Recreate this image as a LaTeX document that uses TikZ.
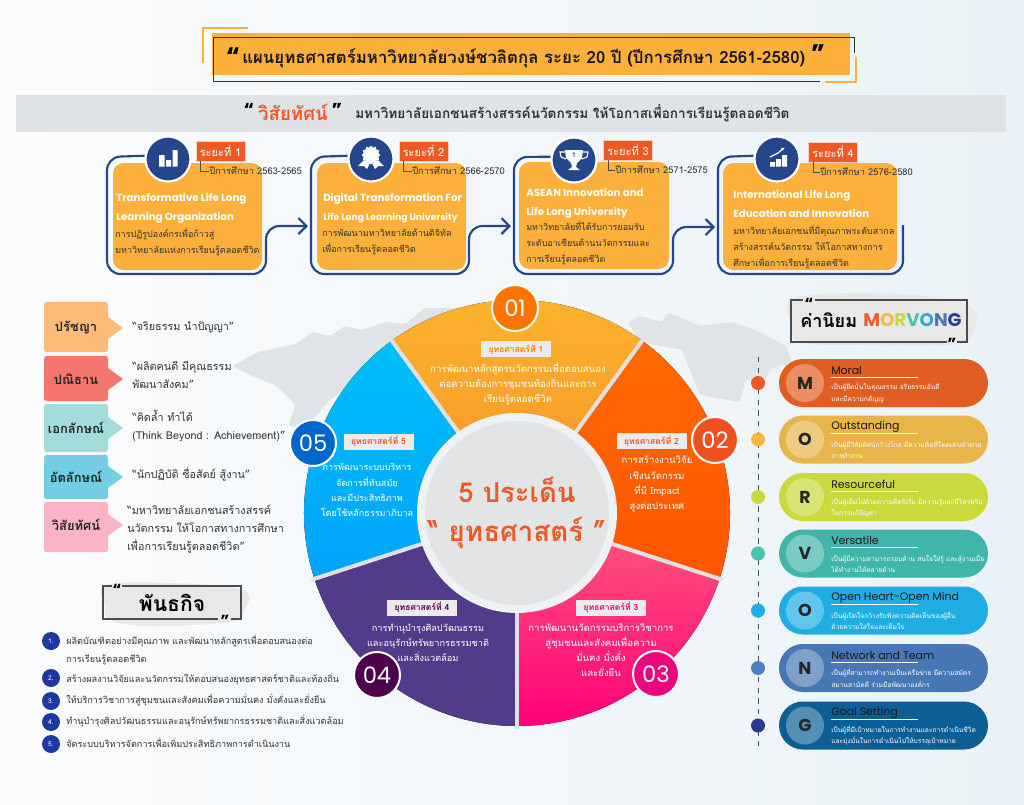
\documentclass[tikz,border=0pt]{standalone}
\usepackage{fontspec}
\setmainfont[Script=Thai]{Loma}
\newfontfamily\latinfont{Poppins}
\usetikzlibrary{arrows.meta,shapes.geometric}
\pgfdeclarelayer{under}
\pgfsetlayers{under,main}
\def\px{0.75pt}
\definecolor{inkdark}{HTML}{333333}
\definecolor{cardorange}{HTML}{FDB03B}
\definecolor{navyblue}{HTML}{25468A}
\definecolor{redtag}{HTML}{EE5A26}
\definecolor{bandgrey}{HTML}{DFE3E6}
\definecolor{mapgrey}{HTML}{E0E4E7}
\definecolor{ringgrey}{HTML}{EEF2F4}
\definecolor{discgrey}{HTML}{E3E4E5}
\definecolor{pagelight}{HTML}{FBFCFD}
\definecolor{pagedark}{HTML}{EAF2F7}
\tikzset{
  flowline/.style={draw=navyblue,line width=1.6pt,rounded corners=10pt},
  flowtip/.style={-{Straight Barb[length=6pt,width=12pt]}},
  cardbody/.style={fill=cardorange,rounded corners=8pt,inner sep=0,outer sep=0},
  iconball/.style={circle,fill=navyblue,draw=white,line width=1.6pt,minimum size=45*\px,inner sep=0},
  phasetag/.style={fill=redtag,draw=white!70!redtag,line width=.4pt,text=white,inner sep=0,minimum width=49*\px,minimum height=20*\px,font=\fontsize{8.3}{10}\selectfont},
  yeartext/.style={anchor=west,inner sep=0,text=inkdark,font=\fontsize{7}{8}\selectfont},
  cardtitle/.style={anchor=west,inner sep=0,align=left,text=white,font=\latinfont\bfseries\fontsize{7.7}{14}\selectfont},
  cardtext/.style={anchor=west,inner sep=0,align=left,text=inkdark,font=\fontsize{6.75}{12}\selectfont},
  quotetext/.style={anchor=west,inner sep=0,align=left,text=inkdark,font=\fontsize{8.1}{13.5}\selectfont},
  quotemark/.style={inner sep=0,text=black,font=\latinfont\bfseries\fontsize{19}{19}\selectfont},
  smallmark/.style={inner sep=0,text=black,font=\latinfont\bfseries\fontsize{12}{12}\selectfont},
  calloutlabel/.style={inner sep=0,text=black!85,font=\bfseries\fontsize{9.7}{11}\selectfont},
  sectorchip/.style={fill=white!92!black,inner sep=0,minimum width=70*\px,minimum height=16*\px,font=\bfseries\fontsize{6.4}{8}\selectfont},
  sectortext/.style={inner sep=0,align=center,text=white,font=\fontsize{7.2}{11.4}\selectfont},
  numball/.style={circle,draw=white,line width=1.5pt,minimum size=46*\px,inner sep=0,text=white,font=\latinfont\fontsize{17}{20}\selectfont},
  missionball/.style={circle,fill=navyblue!80!blue,minimum size=18*\px,inner sep=0,text=white,font=\fontsize{5}{6}\selectfont},
  missiontext/.style={anchor=west,inner sep=0,align=left,text=inkdark,font=\fontsize{6.85}{13.5}\selectfont},
  pillbody/.style={rounded corners=18pt,inner sep=0,outer sep=0,minimum width=209*\px,minimum height=48*\px},
  pillletter/.style={circle,fill=white,fill opacity=.3,text opacity=1,minimum size=38*\px,inner sep=0,text=black!85,font=\latinfont\bfseries\fontsize{13}{15}\selectfont},
  pilltitle/.style={anchor=west,inner sep=0,text=black!90,font=\latinfont\fontsize{8.2}{9}\selectfont},
  pilltext/.style={anchor=west,inner sep=0,align=left,text=white,font=\fontsize{5}{8.4}\selectfont},
  bracketline/.style={draw=black!70,line width=.9pt},
}
\begin{document}
\begin{tikzpicture}[x=0.75pt,y=-0.75pt]
\useasboundingbox (0,0) rectangle (1024,804);
\begin{pgfonlayer}{under}
\fill[left color=pagelight,right color=pagedark] (0,0) rectangle (1024,804);
\fill[mapgrey,rounded corners=2pt] (232,366) -- (258,352) -- (296,344) -- (312,332) -- (330,336) -- (345,326) -- (362,330) -- (385,322) -- (405,324) -- (425,308) -- (470,308) -- (452,330) -- (425,345) -- (395,350) -- (360,378) -- (330,400) -- (305,428) -- (288,425) -- (296,405) -- (275,385) -- (250,375) -- cycle;
\fill[mapgrey,rounded corners=2pt] (628,322) -- (640,316) -- (662,322) -- (668,312) -- (700,326) -- (732,322) -- (760,332) -- (786,346) -- (792,362) -- (772,368) -- (764,382) -- (745,380) -- (740,402) -- (700,395) -- (682,350) -- (640,342) -- cycle;
\end{pgfonlayer}

\fill[cardorange] (212,33) rectangle (850,75);
\draw[black!80,line width=.7pt] (820,81) -- (213,81) -- (213,37) -- (854,37) -- (854,53);
\draw[cardorange,line width=1.7pt] (203,63) -- (203,28) -- (248,28);
\draw[cardorange,line width=1.7pt] (856,57) -- (856,82) -- (825,82);
\node[quotemark] (planquote) at (233,57) {“};
\node[anchor=west,inner sep=0,text=black!90] (plantitle) at (242,58) {\bfseries\fontsize{12.6}{14}\selectfont แผนยุทธศาสตร์มหาวิทยาลัยวงษ์ชวลิตกุล ระยะ 20 ปี  (ปีการศึกษา 2561-2580)};
\node[quotemark] (planquoteend) at (818,54) {”};

\fill[bandgrey] (16,95) rectangle (1006,132);
\node[quotemark,font=\latinfont\bfseries\fontsize{14}{14}\selectfont] (visionopen) at (249,110) {“};
\node[inner sep=0,text=redtag] (visionword) at (293,112) {\bfseries\fontsize{14}{16}\selectfont วิสัยทัศน์};
\node[quotemark,font=\latinfont\bfseries\fontsize{14}{14}\selectfont] (visionclose) at (337,110) {”};
\node[anchor=west,inner sep=0,text=inkdark] (visiontext) at (355,113) {\bfseries\fontsize{10.2}{12}\selectfont มหาวิทยาลัยเอกชนสร้างสรรค์นวัตกรรม ให้โอกาสเพื่อการเรียนรู้ตลอดชีวิต};

\node[cardbody,minimum width=149*\px,minimum height=107*\px] (card1) at (187.5,216.5) {};
\node[cardbody,minimum width=149*\px,minimum height=107*\px] (card2) at (391.5,216.5) {};
\node[cardbody,minimum width=150*\px,minimum height=107*\px] (card3) at (594,215.5) {};
\node[cardbody,minimum width=174*\px,minimum height=107*\px] (card4) at (810,216.5) {};
\node[iconball] (icon1) at (168,159) {};
\node[iconball] (icon2) at (371,159) {};
\node[iconball] (icon3) at (574,160) {};
\node[iconball] (icon4) at (777,159) {};
\coordinate (turn1a) at (107,157);
\coordinate (turn1b) at (107,274);
\coordinate (turn1c) at (266,274);
\coordinate (turn1d) at (266,226);
\coordinate (turn2a) at (311,157);
\coordinate (turn2b) at (311,274);
\coordinate (turn2c) at (469,274);
\coordinate (turn2d) at (469,226);
\coordinate (turn3a) at (514,157);
\coordinate (turn3b) at (514,274);
\coordinate (turn3c) at (673,274);
\coordinate (turn3d) at (673,227);
\coordinate (turn4a) at (718,157);
\coordinate (turn4b) at (718,274);
\coordinate (turn4c) at (903,274);
\coordinate (turn4d) at (903,225);
\coordinate (tip2) at (308,226);
\coordinate (tip3) at (511,226);
\coordinate (tip4) at (715,227);
\begin{pgfonlayer}{under}
\draw[flowline,flowtip] (icon1.172) -- (turn1a) -- (turn1b) -- (turn1c) -- (turn1d) [rounded corners=2pt] -- (tip2);
\draw[flowline,flowtip] (icon2.172) -- (turn2a) -- (turn2b) -- (turn2c) -- (turn2d) [rounded corners=2pt] -- (tip3);
\draw[flowline,flowtip] (icon3.172) -- (turn3a) -- (turn3b) -- (turn3c) -- (turn3d) [rounded corners=2pt] -- (tip4);
\draw[flowline] (icon4.172) -- (turn4a) -- (turn4b) -- (turn4c) -- (turn4d);
\end{pgfonlayer}

\fill[white] (159,155) rectangle (164.5,166.5) (166,160) rectangle (171,166.5) (172.5,150) rectangle (177.5,166.5);
\node[star,star points=12,star point ratio=1.25,fill=white,minimum size=19*\px,inner sep=0] (rosette) at (371,155) {};
\fill[white] (364,160) -- (358,166) -- (364,166) -- (367,169) -- (370,163) -- cycle (378,160) -- (384,166) -- (378,166) -- (375,169) -- (372,163) -- cycle;
\fill[white] (565,150) -- (583,150) -- (582,158) -- (577,163) -- (576,167) -- (580,170) -- (568,170) -- (572,167) -- (571,163) -- (566,158) -- cycle;
\draw[white,line width=.8pt] (565,152) -- (560,152) -- (561,157) -- (566,159) (583,152) -- (588,152) -- (587,157) -- (582,159);
\node[inner sep=0,text=navyblue] (cupone) at (574,155) {\fontsize{5}{6}\selectfont\bfseries 1};
\fill[white] (770,162) rectangle (775,166.5) (776,159) rectangle (781,166.5) (782,155) rectangle (787,166.5);
\draw[white,line width=.9pt,-{Latex[length=3pt]}] (770,157) -- (778,153) -- (785,147);

\node[phasetag] (tag1) at (220.5,151) {ระยะที่ 1};
\node[phasetag] (tag2) at (423.5,151) {ระยะที่ 2};
\node[phasetag] (tag3) at (628,150) {ระยะที่ 3};
\node[phasetag] (tag4) at (833,152) {ระยะที่ 4};
\node[yeartext] (year1) at (209,171) {ปีการศึกษา 2563-2565};
\node[yeartext] (year2) at (412,171) {ปีการศึกษา 2566-2570};
\node[yeartext] (year3) at (615,170) {ปีการศึกษา 2571-2575};
\node[yeartext] (year4) at (820,172) {ปีการศึกษา 2576-2580};
\draw[black!70,line width=.4pt] (tag1.south west)++(5,0) |- (year1.west);
\draw[black!70,line width=.4pt] (tag2.south west)++(5,0) |- (year2.west);
\draw[black!70,line width=.4pt] (tag3.south west)++(5,0) |- (year3.west);
\draw[black!70,line width=.4pt] (tag4.south west)++(5,0) |- (year4.west);

\node[cardtitle] (head1) at (116,208) {Transformative Life Long\\Learning Organization};
\node[cardtext] (body1) at (115,242) {การปฏิรูปองค์กรเพื่อก้าวสู่\\มหาวิทยาลัยแห่งการเรียนรู้ตลอดชีวิต};
\node[cardtitle] (head2) at (323,208) {Digital Transformation For\\{\fontsize{6.9}{14}\selectfont Life Long Learning University}};
\node[cardtext] (body2) at (322,242) {การพัฒนามหาวิทยาลัยด้านดิจิทัล\\เพื่อการเรียนรู้ตลอดชีวิต};
\node[cardtitle] (head3) at (526,203) {ASEAN Innovation and\\Life Long University};
\node[cardtext] (body3) at (526,243) {มหาวิทยาลัยที่ได้รับการยอมรับ\\ระดับอาเซียนด้านนวัตกรรมและ\\การเรียนรู้ตลอดชีวิต};
\node[cardtitle] (head4) at (733,204) {International Life Long\\Education and Innovation};
\node[cardtext] (body4) at (733,247) {มหาวิทยาลัยเอกชนที่มีคุณภาพระดับสากล\\สร้างสรรค์นวัตกรรม ให้โอกาสทางการ\\ศึกษาเพื่อการเรียนรู้ตลอดชีวิต};

\foreach \n/\ya/\yb/\ym/\col/\lab in {1/302/352/328/FDBC7A/ปรัชญา,2/356/401/379/F4766C/ปณิธาน,3/404/452/428/A4DCDC/เอกลักษณ์,4/455/499/477/73CDE3/อัตลักษณ์,5/502/552/525/FBB4C6/วิสัยทัศน์}{
  \definecolor{tagfill}{HTML}{\col}
  \fill[tagfill] (108,\ya) -- (47,\ya) .. controls (45,\ya) and (44,\ya+1) .. (44,\ya+3) -- (44,\yb-3) .. controls (44,\yb-1) and (45,\yb) .. (47,\yb) -- (105,\yb) .. controls (107,\yb) and (108,\yb-1) .. (108,\yb-3) -- (108,\ym+11) -- (123,\ym) -- (108,\ym-11) -- (108,\ya+3) .. controls (108,\ya+1) and (107,\ya) .. (105,\ya) -- (60,\ya);
  \node[calloutlabel] (tag-\n) at (76,\ym) {\lab};
}
\node[quotetext] (quote1) at (132,327) {“จริยธรรม นำปัญญา”};
\node[quotetext] (quote2) at (132,375) {“ผลิตคนดี มีคุณธรรม\\พัฒนาสังคม”};
\node[quotetext] (quote3) at (132,426) {“คิดล้ำ ทำได้\\(Think Beyond : Achievement)”};
\node[quotetext] (quote4) at (132,474) {“นักปฏิบัติ ซื่อสัตย์ สู้งาน”};
\node[quotetext] (quote5) at (127,529) {“มหาวิทยาลัยเอกชนสร้างสรรค์\\นวัตกรรม ให้โอกาสทางการศึกษา\\เพื่อการเรียนรู้ตลอดชีวิต”};

\fill[black!9] plot[smooth cycle,tension=.6] coordinates {(106,585) (170,583) (243,590) (244,612) (230,622) (150,626) (110,620) (105,605)};
\draw[bracketline] (112,586) -- (103,586) -- (103,619) -- (218,619);
\draw[bracketline] (122,586) -- (241,586) -- (241,619) -- (231,619);
\node[smallmark] (missionopen) at (117,590) {“};
\node[smallmark] (missionclose) at (225,621) {”};
\node[inner sep=0,text=black] (missionhead) at (172,603) {\bfseries\fontsize{15.8}{18}\selectfont พันธกิจ};
\node[missionball] (dot1) at (51,641) {1.};
\node[missionball] (dot2) at (51,678) {2.};
\node[missionball] (dot3) at (51,701) {3.};
\node[missionball] (dot4) at (51,722) {4.};
\node[missionball] (dot5) at (51,744) {5.};
\node[missiontext] (line1) at (66,650) {ผลิตบัณฑิตอย่างมีคุณภาพ และพัฒนาหลักสูตรเพื่อตอบสนองต่อ\\การเรียนรู้ตลอดชีวิต};
\node[missiontext] (line2) at (66,679) {สร้างผลงานวิจัยและนวัตกรรมให้ตอบสนองยุทธศาสตร์ชาติและท้องถิ่น};
\node[missiontext] (line3) at (66,700) {ให้บริการวิชาการสู่ชุมชนและสังคมเพื่อความมั่นคง มั่งคั่งและยั่งยืน};
\node[missiontext] (line4) at (66,721) {ทำนุบำรุงศิลปวัฒนธรรมและอนุรักษ์ทรัพยากรธรรมชาติและสิ่งแวดล้อม};
\node[missiontext] (line5) at (66,743) {จัดระบบบริหารจัดการเพื่อเพิ่มประสิทธิภาพการดำเนินงาน};

\begin{scope}[shift={(517,513)},x=0.75pt,y=0.75pt]
\foreach \a/\b/\topc/\botc in {54/126/FDB52D/F7932B,-18/54/FF6A00/FF5500,-90/-18/FF5C7C/FF0078,198/270/513B8A/513B8A,126/198/00BEF8/00A4FB}{
  \definecolor{secTop}{HTML}{\topc}
  \definecolor{secBot}{HTML}{\botc}
  \fill[top color=secTop,bottom color=secBot] (0,0) -- (\a:213) arc[start angle=\a,end angle=\b,radius=213] -- cycle;
}
\foreach \a in {54,126,198,270,-18}{
  \draw[white!88!black,line width=3pt] (0,0) -- (\a:216);
}
\fill[ringgrey] (0,0) circle (100);
\fill[discgrey] (0,0) circle (92);
\end{scope}

\node[inner sep=0,text=redtag] (centerhead) at (517,490) {\bfseries\fontsize{20.6}{24}\selectfont 5 ประเด็น};
\node[inner sep=0,text=redtag] (centersub) at (517,533) {\bfseries\fontsize{20.8}{24}\selectfont “ ยุทธศาสตร์ ”};

\node[sectorchip,text=orange] (chip1) at (516,349) {ยุทธศาสตร์ที่ 1};
\node[sectortext] (text1) at (518,384) {การพัฒนาหลักสูตรนวัตกรรมเพื่อตอบสนอง\\ต่อความต้องการชุมชนท้องถิ่นและการ\\เรียนรู้ตลอดชีวิต};
\node[sectorchip,text=redtag] (chip2) at (651.5,441) {ยุทธศาสตร์ที่ 2};
\node[sectortext] (text2) at (657,484) {การสร้างงานวิจัย\\เชิงนวัตกรรม\\ที่มี Impact\\สูงต่อประเทศ};
\node[sectorchip,text=magenta!80!red] (chip3) at (611,607.5) {ยุทธศาสตร์ที่ 3};
\node[sectortext] (text3) at (601,650) {การพัฒนานวัตกรรมบริการวิชาการ\\สู่ชุมชนและสังคมเพื่อความ\\มั่นคง มั่งคั่ง\\และยั่งยืน};
\node[sectorchip,text=violet!70!black] (chip4) at (422,607.5) {ยุทธศาสตร์ที่ 4};
\node[sectortext,font=\fontsize{6.9}{11.4}\selectfont] (text4) at (428,643) {การทำนุบำรุงศิลปวัฒนธรรม\\และอนุรักษ์ทรัพยากรธรรมชาติ\\และสิ่งแวดล้อม};
\node[sectorchip,text=redtag] (chip5) at (378.5,441.5) {ยุทธศาสตร์ที่ 5};
\node[sectortext,font=\fontsize{6.8}{11.4}\selectfont] (text5) at (367,490) {การพัฒนาระบบบริหาร\\จัดการที่ทันสมัย\\และมีประสิทธิภาพ\\โดยใช้หลักธรรมาภิบาล};

\node[numball,fill=orange!90!red] (num1) at (515,308) {01};
\node[numball,fill=redtag!90!red] (num2) at (715,440) {02};
\node[numball,fill=magenta!85!red] (num3) at (656,674) {03};
\node[numball,fill=violet!60!black] (num4) at (377,675) {04};
\node[numball,fill=blue!50!cyan!80!black] (num5) at (313,443) {05};

\fill[black!9] plot[smooth cycle,tension=.6] coordinates {(795,298) (880,293) (968,305) (972,335) (950,345) (860,345) (800,342) (790,320)};
\draw[bracketline] (803,300) -- (791,300) -- (791,342) -- (947,342);
\draw[bracketline] (815,300) -- (967,300) -- (967,342) -- (957,342);
\node[smallmark] (valueopen) at (809,304) {“};
\node[smallmark] (valueclose) at (952,344) {”};
\node[anchor=west,inner sep=0,text=black] (valuehead) at (800,320) {\bfseries\fontsize{13.5}{16}\selectfont ค่านิยม};
\node[anchor=west,inner sep=0] (valueword) at (863,320) {\latinfont\bfseries\fontsize{13.7}{16}\selectfont\textcolor[HTML]{EE5F2C}{M}\textcolor[HTML]{FDB73E}{O}\textcolor[HTML]{C9D63C}{R}\textcolor[HTML]{4CC3B0}{V}\textcolor[HTML]{29ABE2}{O}\textcolor[HTML]{4A76B8}{N}\textcolor[HTML]{2C3E9C}{G}};

\draw[black!70,line width=.6pt,dash pattern=on 4pt off 4pt] (758,357) -- (758,748);
\foreach \n/\ym/\bodyc/\dotc/\lett/\tit/\la/\lb in {
  1/383/E05E22/EE5A26/M/Moral/{เป็นผู้ยึดมั่นในคุณธรรม จริยธรรมอันดี}/{และมีความกตัญญู},
  2/439.5/E8B54B/FDB73E/O/Outstanding/{เป็นผู้มีวิสัยทัศน์กว้างไกล มีความคิดที่โดดเด่นท้าทาย}/{การทำงาน},
  3/497/CBD93C/CBD93C/R/Resourceful/{เป็นผู้เต็มไปด้วยความคิดริเริ่ม มีความรู้และมีไหวพริบ}/{ในการแก้ปัญหา},
  4/553.5/41B5A8/4CC3B0/V/Versatile/{เป็นผู้มีความสามารถรอบด้าน สนใจใฝ่รู้ และสู้งานเมื่อ}/{ได้ทำงานได้หลายด้าน},
  5/610.5/1FADE4/1FADE4/O/Open Heart-Open Mind/{เป็นผู้เปิดใจกว้างรับฟังความคิดเห็นของผู้อื่น}/{ด้วยความใส่ใจและเต็มใจ},
  6/668/4877B5/4F80BF/N/Network and Team/{เป็นผู้ที่สามารถทำงานเป็นเครือข่าย มีความสมัคร}/{สมานสามัคคี ร่วมมือพัฒนาองค์กร},
  7/725.5/0B5F94/2B3990/G/Goal Setting/{เป็นผู้ที่มีเป้าหมายในการทำงานและการดำเนินชีวิต}/{และมุ่งมั่นในการดำเนินไปให้บรรลุเป้าหมาย}}{
  \definecolor{pillfill}{HTML}{\bodyc}
  \definecolor{dotfill}{HTML}{\dotc}
  \node[pillbody,fill=pillfill] (pill\n) at (883.5,\ym) {};
  \node[circle,fill=dotfill,minimum size=14*\px,inner sep=0] (mark\n) at (758,\ym) {};
  \node[pillletter] (letter\n) at (805,\ym) {\lett};
  \node[pilltitle] (title\n) at (831,\ym-13) {\tit};
  \draw[white,line width=.6pt] (831,\ym-6) -- (918,\ym-6);
  \node[pilltext] (desc\n) at (831,\ym+10) {\la\\\lb};
}
\end{tikzpicture}
\end{document}
